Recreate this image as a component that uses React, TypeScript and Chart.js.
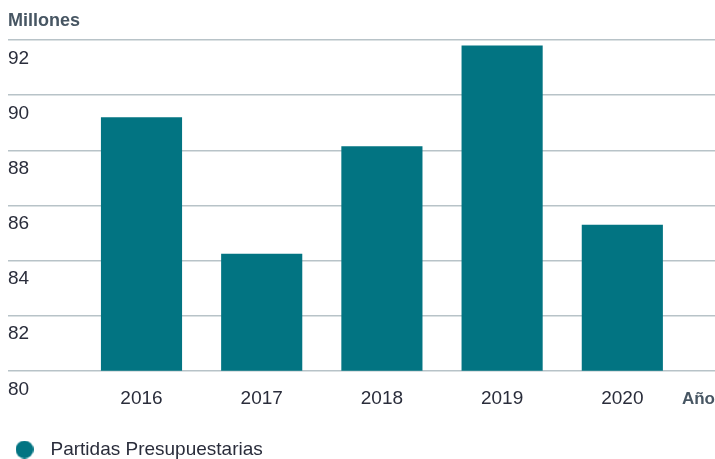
import React, { useEffect, useRef } from 'react';
import { Chart, registerables } from 'chart.js';

Chart.register(...registerables);

const categories = ['2016', '2017', '2018', '2019', '2020'];
const values = [89.2, 84.25, 88.15, 91.8, 85.3];
const seriesLabel = 'Partidas Presupuestarias';
const yTicks = [80, 82, 84, 86, 88, 90, 92];
const yTitle = 'Millones';
const xTitle = 'Año';

const TEAL = '#027482';
const TEXT = '#2a2d3b';
const TITLE = '#475663';
const GRID = '#b8c3c8';
const FAMILY = "'Liberation Sans', Arial, sans-serif";

export default function App() {
  const ref = useRef<HTMLCanvasElement>(null);

  useEffect(() => {
    const canvas = ref.current;
    if (!canvas) return;
    const marker = document.createElement('canvas');
    marker.width = 18;
    marker.height = 18;
    const mctx = marker.getContext('2d');
    if (mctx) {
      mctx.fillStyle = TEAL;
      mctx.beginPath();
      mctx.arc(9, 9, 9, 0, Math.PI * 2);
      mctx.fill();
    }

    const chart = new Chart(canvas, {
      type: 'bar',
      data: {
        datasets: [
          {
            label: seriesLabel,
            data: values.map((v, i) => ({ x: i, y: v })),
            backgroundColor: TEAL,
            barPercentage: 0.675,
            categoryPercentage: 1,
          },
        ],
      },
      options: {
        responsive: false,
        animation: false,
        layout: { padding: { left: 8, right: 0, top: 0, bottom: -10 } },
        plugins: {
          title: {
            display: true,
            text: yTitle,
            align: 'start',
            color: TITLE,
            font: { family: FAMILY, size: 18, weight: 'bold' },
            padding: { top: 10, bottom: 8.4 },
          },
          legend: {
            position: 'bottom',
            align: 'start',
            labels: {
              usePointStyle: true,
              pointStyle: marker,
              pointStyleWidth: 33,
              boxHeight: 18,
              padding: 0,
              color: TEXT,
              font: { family: FAMILY, size: 19 },
            },
          },
          tooltip: { enabled: false },
        },
        scales: {
          x: {
            type: 'linear',
            offset: false,
            min: -1.1106,
            max: 4.771,
            afterBuildTicks: (s: any) => {
              s.ticks = categories.map((_, i) => ({ value: i }));
            },
            ticks: {
              callback: (v: any) => categories[v as number] ?? '',
              autoSkip: false,
              maxRotation: 0,
              padding: 16.5,
              color: TEXT,
              font: { family: FAMILY, size: 19 },
            },
            grid: { display: false, drawTicks: false, offset: false },
            border: { display: false },
            title: {
              display: true,
              text: xTitle,
              align: 'end',
              color: TITLE,
              font: { family: FAMILY, size: 17, weight: 'bold' },
              padding: { top: -37, bottom: 30 },
            },
          },
          y: {
            min: 80,
            max: 92,
            afterBuildTicks: (s: any) => {
              s.ticks = yTicks.map((v) => ({ value: v }));
            },
            ticks: {
              mirror: true,
              padding: 0,
              labelOffset: 18.5,
              color: TEXT,
              font: { family: FAMILY, size: 19 },
            },
            grid: { color: GRID, lineWidth: 1.5, drawTicks: false },
            border: { display: false },
          },
        },
      },
    } as any);

    return () => chart.destroy();
  }, []);

  return (
    <div style={{ position: 'absolute', left: 0, top: 0, width: 715, height: 459 }}>
      <canvas ref={ref} width={715} height={459} style={{ display: 'block' }} />
    </div>
  );
}
